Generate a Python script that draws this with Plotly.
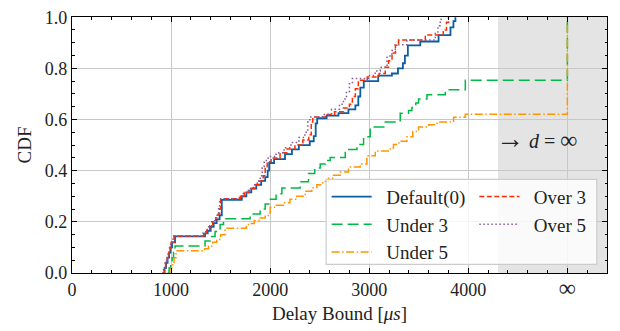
import plotly.graph_objects as go

# ---- data (delay in microseconds, CDF value reached at that delay) ----
default_x = [920, 935, 950, 965, 980, 995, 1010, 1040, 1343, 1370, 1400, 1430, 1460, 1490, 1512,
             1714, 1760, 1810, 1860, 1910, 1950, 1975, 1990, 2040, 2150, 2220, 2290, 2400, 2440,
             2460, 2475, 2570, 2690, 2790, 2860, 2890, 2910, 2945, 3091, 3229, 3290, 3340, 3360,
             3390, 3515, 3700, 3820, 3850, 3870]
default_y = [0.00, 0.02, 0.04, 0.06, 0.08, 0.10, 0.12, 0.143, 0.155, 0.165, 0.18, 0.195, 0.21, 0.225, 0.286,
             0.30, 0.315, 0.33, 0.345, 0.36, 0.375, 0.40, 0.43, 0.445, 0.465, 0.483, 0.50, 0.515, 0.535,
             0.585, 0.605, 0.615, 0.625, 0.64, 0.655, 0.69, 0.725, 0.75, 0.772, 0.78, 0.80, 0.82, 0.85,
             0.89, 0.905, 0.93, 0.96, 0.985, 1.0]

under3_x = [965, 980, 995, 1010, 1025, 1040, 1343, 1394, 1444, 1495, 1529, 1798, 1899, 1950, 2000,
            2060, 2118, 2303, 2387, 2450, 2505, 2560, 2606, 2758, 2876, 2943, 3010, 3162, 3313, 3397,
            3431, 3470, 3498, 3583, 3768, 3970, 5000]
under3_y = [0.00, 0.02, 0.04, 0.06, 0.08, 0.106, 0.125, 0.143, 0.162, 0.19, 0.2125, 0.231, 0.25, 0.27, 0.288,
            0.31, 0.332, 0.357, 0.389, 0.41, 0.426, 0.44, 0.452, 0.483, 0.502, 0.533, 0.571, 0.59, 0.625, 0.635,
            0.647, 0.665, 0.68, 0.697, 0.716, 0.754, 1.0]

under5_x = [985, 1000, 1015, 1030, 1050, 1340, 1377, 1420, 1461, 1500, 1545, 1760, 1781, 1840, 1899,
            1950, 2000, 2060, 2134, 2200, 2269, 2354, 2420, 2471, 2530, 2589, 2640, 2707, 2791, 2909,
            2976, 3061, 3212, 3245, 3300, 3380, 3440, 3498, 3600, 3684, 3852, 3970, 5000]
under5_y = [0.00, 0.02, 0.04, 0.06, 0.087, 0.095, 0.106, 0.12, 0.131, 0.15, 0.175, 0.185, 0.194, 0.205, 0.215,
            0.225, 0.257, 0.265, 0.275, 0.288, 0.30, 0.32, 0.333, 0.345, 0.358, 0.37, 0.382, 0.395, 0.414, 0.426,
            0.458, 0.477, 0.489, 0.502, 0.515, 0.533, 0.553, 0.571, 0.58, 0.59, 0.609, 0.621, 1.0]

over3_x = [915, 930, 945, 960, 975, 990, 1000, 1030, 1330, 1360, 1390, 1420, 1450, 1475, 1490, 1500,
           1700, 1740, 1790, 1840, 1890, 1930, 1950, 1970, 2010, 2100, 2170, 2250, 2330, 2390, 2415, 2430,
           2560, 2650, 2740, 2800, 2830, 2860, 2890, 2980, 3100, 3162, 3195, 3230, 3265, 3296, 3566,
           3747, 3780, 3800]
over3_y = [0.00, 0.02, 0.04, 0.06, 0.08, 0.10, 0.12, 0.145, 0.155, 0.17, 0.185, 0.20, 0.215, 0.23, 0.25, 0.29,
           0.30, 0.315, 0.33, 0.345, 0.36, 0.38, 0.41, 0.435, 0.45, 0.47, 0.485, 0.50, 0.52, 0.54, 0.59, 0.61,
           0.62, 0.63, 0.645, 0.66, 0.69, 0.72, 0.754, 0.766, 0.78, 0.804, 0.83, 0.86, 0.89, 0.911, 0.93,
           0.95, 0.98, 1.0]

over5_x = [910, 925, 940, 955, 970, 985, 995, 1020, 1320, 1350, 1380, 1410, 1440, 1465, 1480, 1490,
           1690, 1730, 1780, 1830, 1870, 1900, 1920, 1940, 1980, 2060, 2140, 2210, 2290, 2350, 2380, 2400,
           2530, 2620, 2700, 2740, 2770, 2800, 2830, 2993, 3060, 3111, 3180, 3229, 3263, 3380, 3667,
           3693, 3717, 3728]
over5_y = [0.00, 0.02, 0.04, 0.06, 0.08, 0.10, 0.12, 0.145, 0.155, 0.17, 0.185, 0.20, 0.215, 0.235, 0.26, 0.29,
           0.30, 0.315, 0.33, 0.345, 0.36, 0.38, 0.41, 0.44, 0.455, 0.47, 0.49, 0.51, 0.53, 0.55, 0.59, 0.61,
           0.62, 0.64, 0.66, 0.68, 0.71, 0.74, 0.76, 0.772, 0.79, 0.804, 0.848, 0.87, 0.892, 0.911, 0.942,
           0.967, 0.992, 1.0]

x_tickvals = [0, 1000, 2000, 3000, 4000, 5000]
x_ticktext = ["0", "1000", "2000", "3000", "4000", "<span style='font-size:24px'>∞</span>"]
y_tickvals = [0.0, 0.2, 0.4, 0.6, 0.8, 1.0]
inf_region = [4300, 5400]

FONT = "Liberation Serif"
X_RANGE = [0, 5400]
Y_RANGE = [0, 1.0008]

series = [
    ("Default(0)", default_x, default_y, "#0C5DA5", "solid", 1.8, "legend"),
    ("Under 3", under3_x, under3_y, "#00B945", "11px,5px", 1.5, "legend"),
    ("Under 5", under5_x, under5_y, "#FF9500", "8px,2.5px,1.5px,2.5px", 1.5, "legend"),
    ("Over 3", over3_x, over3_y, "#FF2C00", "5px,2.5px", 1.5, "legend2"),
    ("Over 5", over5_x, over5_y, "#845B97", "1.5px,2.5px", 1.5, "legend2"),
]

fig = go.Figure()
for name, xs, ys, color, dash, w, lg in series:
    fig.add_trace(go.Scatter(x=xs, y=ys, mode="lines", name="\u2002" + name, line_shape="hv",
                             line=dict(color=color, dash=dash, width=w), legend=lg))

# empty helper trace so the mirrored (top/right) tick axes get drawn
fig.add_trace(go.Scatter(x=[], y=[], xaxis="x2", yaxis="y2", showlegend=False, hoverinfo="skip"))

# shaded "infinite delay" region
fig.add_shape(type="rect", xref="x", yref="paper", x0=inf_region[0], x1=inf_region[1], y0=0, y1=1,
              fillcolor="#e4e4e4", line_width=0, layer="below")

# legend frame
fig.add_shape(type="rect", xref="paper", yref="paper", x0=0.475, x1=0.981, y0=0.034, y1=0.366,
              fillcolor="rgba(255,255,255,0.8)", line=dict(color="#cccccc", width=1.2), layer="above")

fig.add_annotation(x=4690, y=0.525, xref="x", yref="y",
                   text="<span style='font-size:28px'>→</span> <i>d</i> = <span style='font-size:24px'>∞</span>",
                   showarrow=False, font=dict(family=FONT, size=20, color="#222"))

tick_common = dict(ticks="inside", ticklen=5, tickwidth=1, tickcolor="black")
minor_common = dict(ticks="inside", ticklen=2.5, tickcolor="black", showgrid=False)

axis_common = dict(showline=True, linecolor="black", linewidth=1.2, mirror=True,
                   showgrid=True, gridcolor="#c8c8c8", gridwidth=1, zeroline=False,
                   ticklabeloverflow="allow",
                   tickfont=dict(family=FONT, size=18, color="#222"), **tick_common)

legend_common = dict(bgcolor="rgba(0,0,0,0)", borderwidth=0, xanchor="left", yanchor="top",
                     font=dict(family=FONT, size=19, color="#222"), itemwidth=40, tracegroupgap=0)

fig.update_layout(
    width=620, height=331,
    margin=dict(l=72, r=13, t=8, b=58),
    plot_bgcolor="white", paper_bgcolor="white",
    xaxis=dict(range=X_RANGE, tickvals=x_tickvals, ticktext=x_ticktext,
               minor=dict(dtick=200, tick0=0, **minor_common),
               title=dict(text="Delay Bound [<i>μs</i>]", font=dict(family=FONT, size=19, color="#222"), standoff=6),
               **axis_common),
    yaxis=dict(range=Y_RANGE, tickvals=y_tickvals, tickformat=".1f",
               minor=dict(dtick=0.05, tick0=0, **minor_common),
               title=dict(text="CDF", font=dict(family=FONT, size=19, color="#222"), standoff=8),
               **axis_common),
    legend=dict(x=0.476, y=0.372, **legend_common),
    legend2=dict(x=0.752, y=0.372, **legend_common),
    # mirrored tick marks on top and right
    xaxis2=dict(overlaying="x", side="top", anchor="y2", range=X_RANGE, tickvals=x_tickvals,
                showticklabels=False, showgrid=False, zeroline=False, showline=False,
                minor=dict(dtick=200, tick0=0, **minor_common), **tick_common),
    yaxis2=dict(overlaying="y", side="right", anchor="x2", range=Y_RANGE, tickvals=y_tickvals,
                showticklabels=False, showgrid=False, zeroline=False, showline=False,
                minor=dict(dtick=0.05, tick0=0, **minor_common), **tick_common),
)

fig.write_html("out.html")
